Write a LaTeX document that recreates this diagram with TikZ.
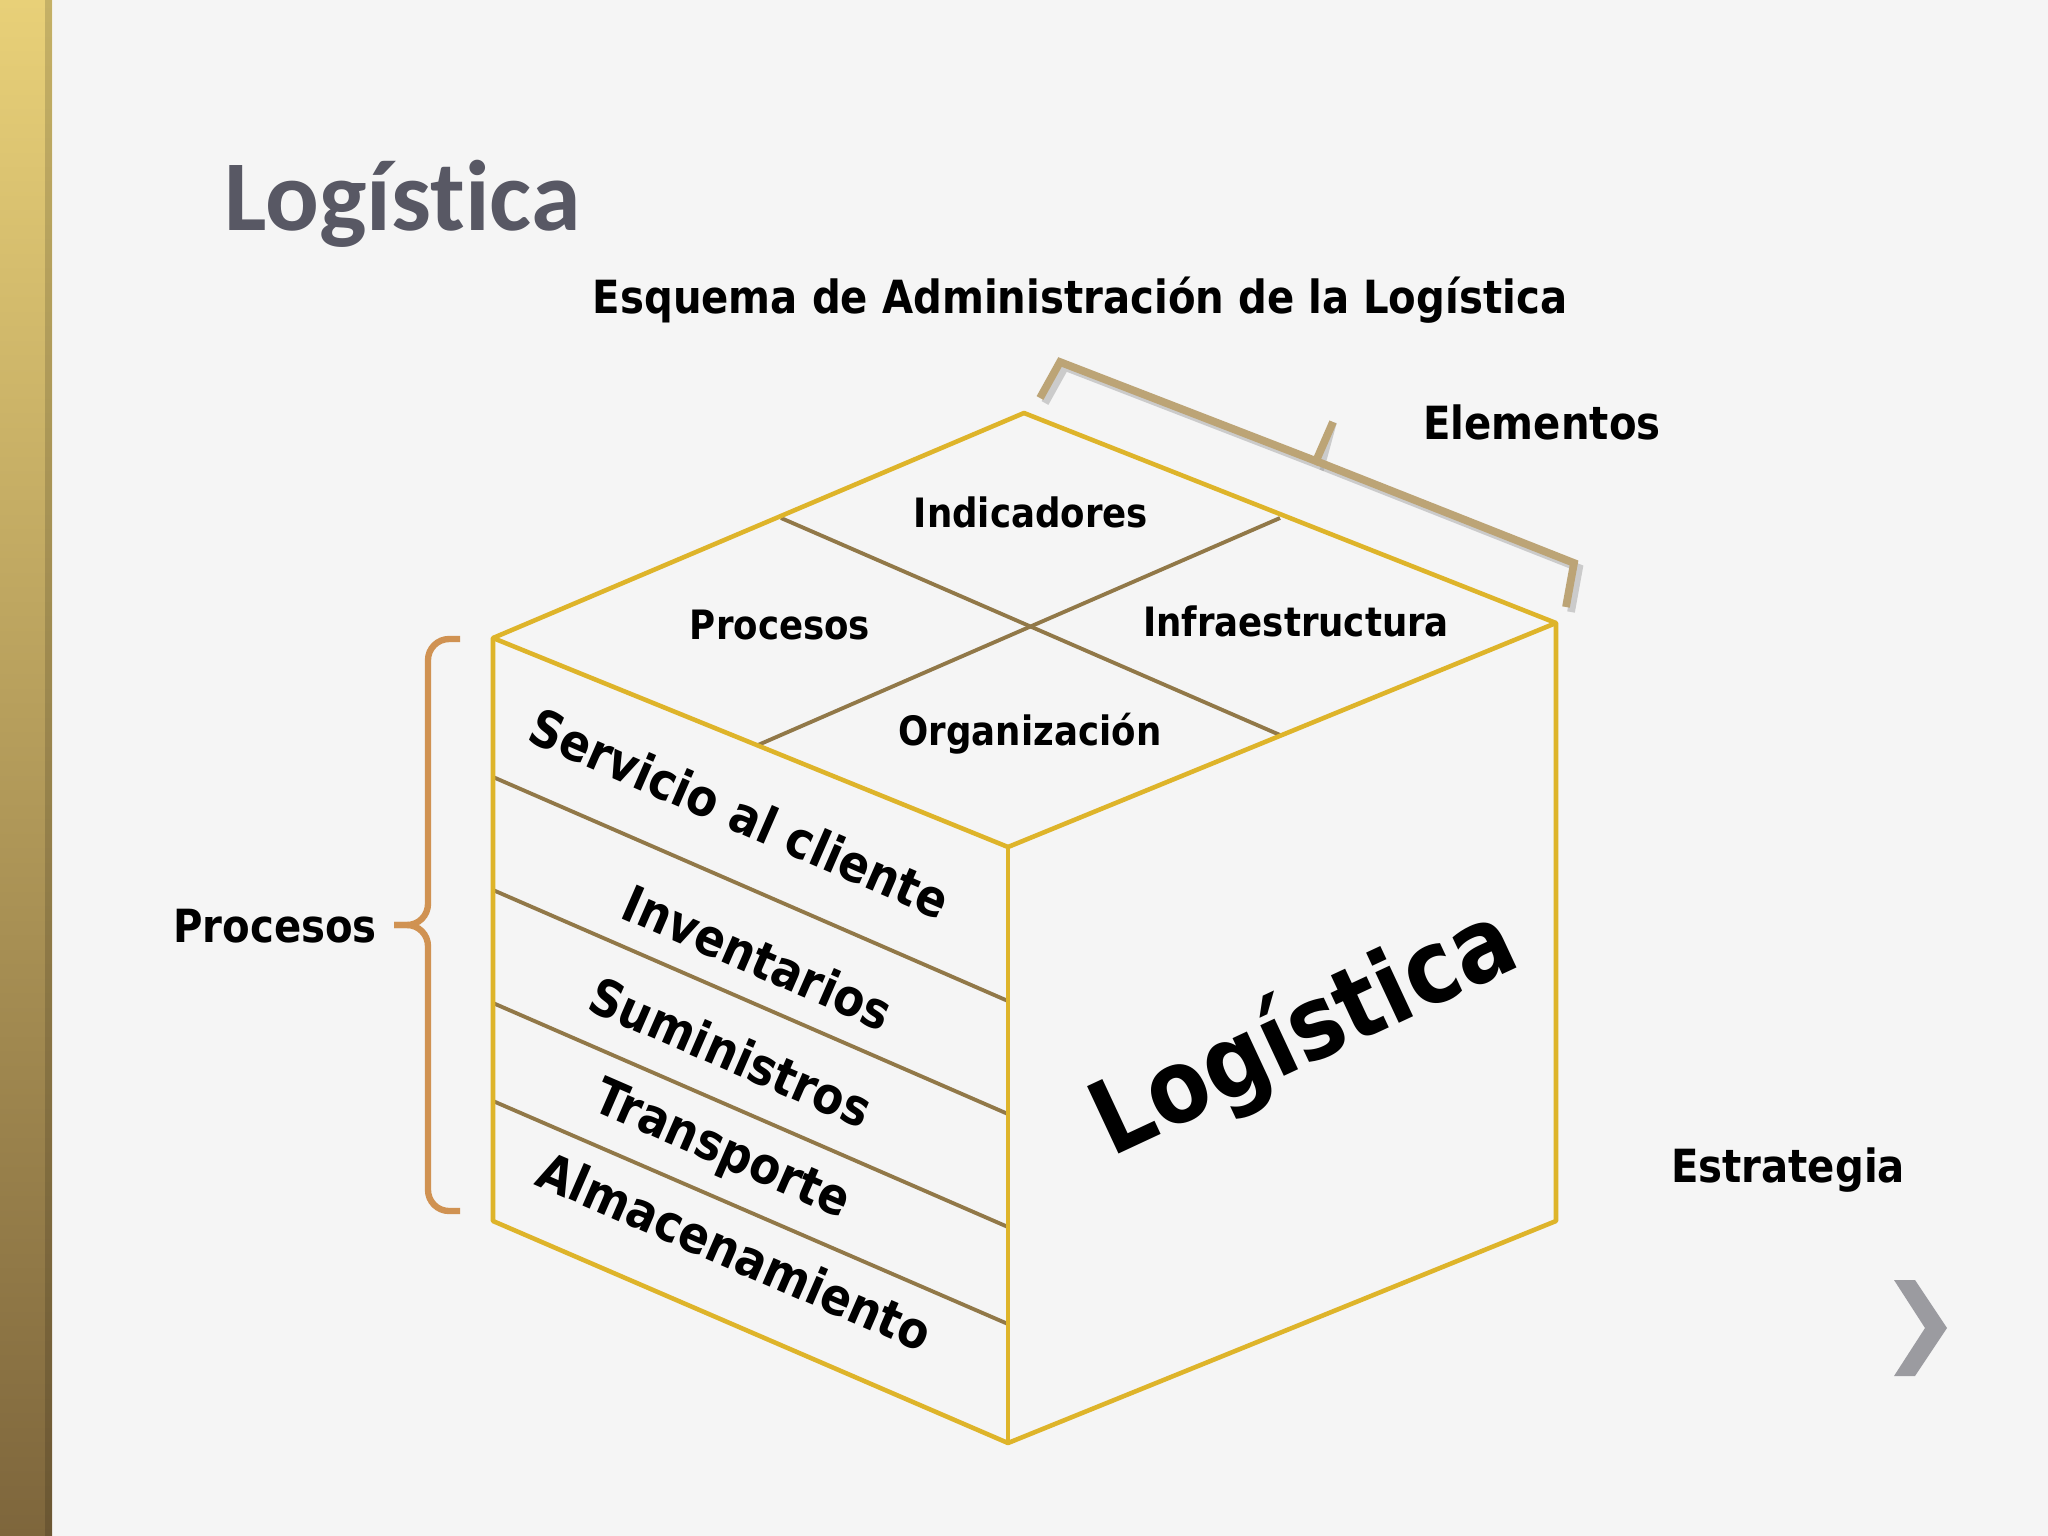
\documentclass[tikz,border=0pt]{standalone}
\usepackage{fontspec}
\setmainfont{DejaVu Sans}[FakeStretch=0.88]
\newfontfamily\titlefont{Carlito}[Ligatures=NoCommon]
\usepackage{tikz}

\definecolor{cubegold}{RGB}{222,180,42}
\definecolor{divbrown}{RGB}{145,120,72}
\definecolor{bracetan}{RGB}{188,164,118}
\definecolor{braceorange}{RGB}{208,146,82}
\definecolor{titlegray}{RGB}{88,88,100}
\definecolor{chevgray}{RGB}{155,155,160}

\begin{document}
\begin{tikzpicture}[x=0.01cm, y=-0.01cm]
    \useasboundingbox (0,0) rectangle (2048,1536);
    \fill[black!4] (0,0) rectangle (2048,1536);
    \shade[top color={rgb,255:red,232;green,208;blue,120}, middle color={rgb,255:red,214;green,174;blue,46},
      bottom color={rgb,255:red,126;green,102;blue,60}] (0,0) rectangle (52,1536);
    \fill[black, opacity=0.15] (45,0) rectangle (52,1536);

    \node[font=\titlefont\bfseries\fontsize{28.5}{34}\selectfont, text=titlegray, anchor=base west] (title) at (212,230) {Logística};

    % cube
    \coordinate (T) at (1024,413);
    \coordinate (TL) at (493,638);
    \coordinate (TR) at (1556,623);
    \coordinate (F) at (1008,847);
    \coordinate (BL) at (493,1221);
    \coordinate (BR) at (1556,1221);
    \coordinate (B) at (1008,1443);

    \begin{scope}[divbrown, line width=1.1pt]
      \draw (781,518) -- (1280,735);
      \draw (1280,518) -- (758,745);
      \foreach \l/\r in {777/1001, 890/1114, 1003/1227, 1101/1324}{
        \draw (493,\l) -- (1008,\r);
      }
    \end{scope}

    \begin{scope}[cubegold, line width=1.3pt, line join=round]
      \draw (T) -- (TR) -- (BR) -- (B) -- (BL) -- (TL) -- cycle;
      \draw (TL) -- (F) -- (TR);
      \draw (F) -- (B);
    \end{scope}

    \begin{scope}[every node/.style={font=\bfseries\fontsize{11.5}{13}\selectfont, anchor=base}]
    \node (indic) at (1031,527) {Indicadores};
    \node (procT) at (780,639) {Procesos};
    \node (infra) at (1296,636) {Infraestructura};
    \node (organ) at (1030,745) {Organización};
    \end{scope}

    \begin{scope}[every node/.style={font=\bfseries\fontsize{14.5}{17}\selectfont, rotate=-23.5}]
    \node (serv) at (740,813) {Servicio al cliente};
    \node (inv) at (758,957) {Inventarios};
    \node (sumin) at (731,1052) {Suministros};
    \node (transp) at (721,1152) {Transporte};
    \node (almac) at (735,1251) {Almacenamiento};
    \end{scope}

    \node[font=\bfseries\fontsize{29}{34}\selectfont, rotate=25] (logcube) at (1305,1034) {Logística};

    \begin{scope}[every node/.style={font=\bfseries\fontsize{13}{15}\selectfont, anchor=base}]
    \node (esquema) at (1080,313) {Esquema de Administración de la Logística};
    \node (elem) at (1542,439) {Elementos};
    \node (estrat) at (1788,1182) {Estrategia};
    \node (procL) at (275,942) {Procesos};
    \end{scope}

    % braces
    \coordinate (elemtip) at (1333,422);
    \coordinate (proctip) at (394,925);
    \foreach \d/\c/\o in {5/black!40/0.45, 0/bracetan/1}{
      \begin{scope}[shift={(\d,\d)}, draw=\c, opacity=\o, line width=2.2pt, line join=miter]
        \draw (1040,398) -- (1060,362) -- (1316,461) -- (elemtip);
        \draw (1316,461) -- (1574,563) -- (1566,607);
      \end{scope}
    }
    \begin{scope}[braceorange, line width=1.8pt, rounded corners=6]
      \draw (460,639) -- (428,639) -- (428,925) -- (proctip);
      \draw (460,1211) -- (428,1211) -- (428,925) -- (proctip);
    \end{scope}

    \fill[chevgray] (1894,1280) -- (1915,1280) -- (1947,1328) -- (1915,1376) -- (1894,1376) -- (1925,1328) -- cycle;
\end{tikzpicture}
\end{document}
